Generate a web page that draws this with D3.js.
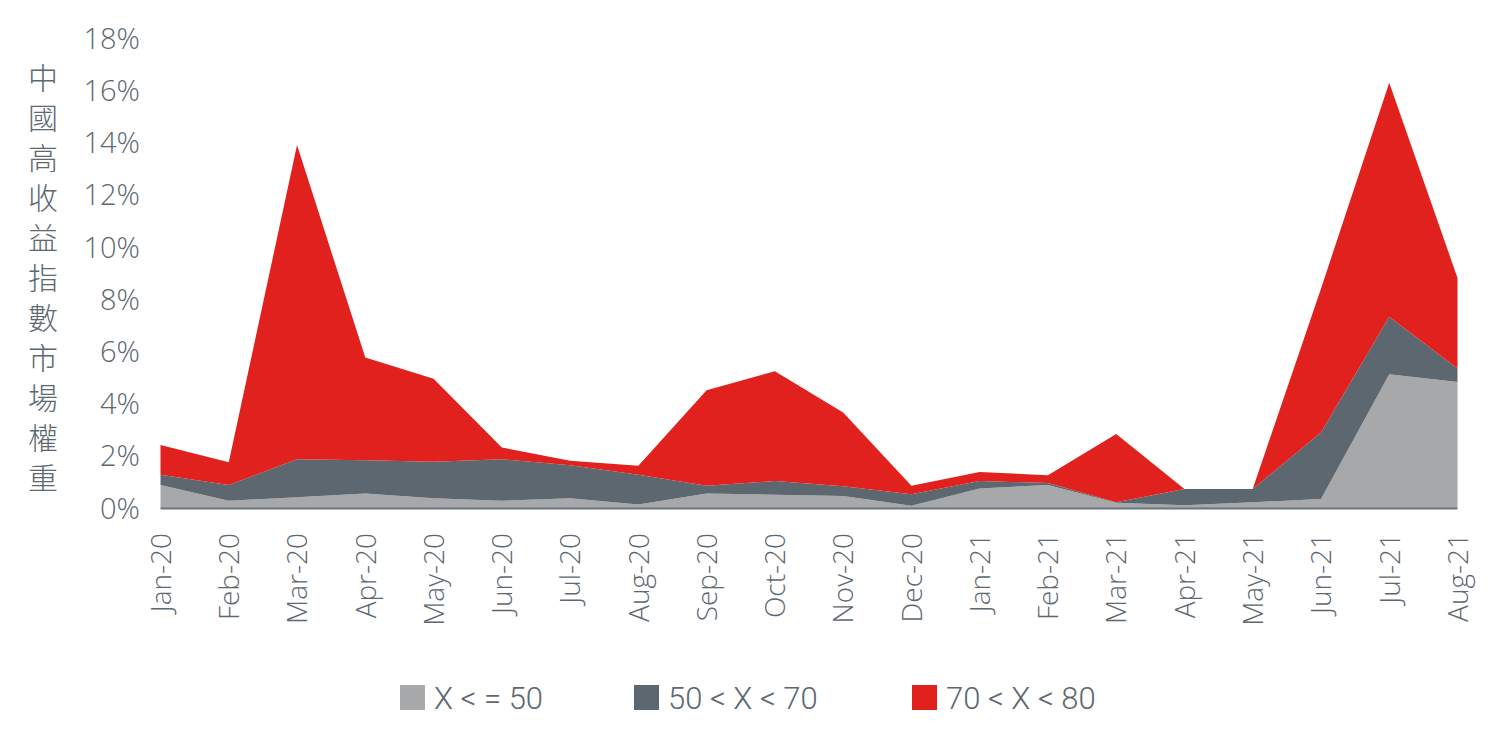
<!DOCTYPE html>
<html>
<head>
<meta charset="utf-8">
<script src="https://cdn.jsdelivr.net/npm/d3@7"></script>
<style>
  html, body { margin: 0; padding: 0; background: #fff; }
  svg { display: block; }
</style>
</head>
<body>
<svg id="chart" width="1500" height="748"></svg>
<script>
const months = ["Jan-20","Feb-20","Mar-20","Apr-20","May-20","Jun-20","Jul-20","Aug-20","Sep-20","Oct-20","Nov-20","Dec-20","Jan-21","Feb-21","Mar-21","Apr-21","May-21","Jun-21","Jul-21","Aug-21"];
// individual series values (%) - stacked
const seriesLow  = [0.88,0.28,0.41,0.56,0.37,0.28,0.37,0.13,0.56,0.51,0.46,0.09,0.75,0.88,0.20,0.11,0.22,0.34,5.12,4.83];
const seriesMid  = [0.39,0.60,1.46,1.27,1.40,1.59,1.27,1.14,0.29,0.52,0.37,0.44,0.28,0.08,0.02,0.62,0.51,2.55,2.20,0.51];
const seriesHigh = [1.14,0.87,12.03,3.93,3.18,0.45,0.17,0.35,3.66,4.21,2.83,0.32,0.35,0.29,2.61,0.00,0.00,5.51,8.97,3.47];
const seriesNames = ["X < = 50","50 < X < 70","70 < X < 80"];
const seriesColors = ["#a7a8aa","#5c6770","#e1211e"];
const yTicks = [0,2,4,6,8,10,12,14,16,18];
const yTitle = "中國高收益指數市場權重";

const svg = d3.select("#chart");
const textColor = "#5d6871";

const x = d3.scalePoint().domain(months).range([160.5, 1457.5]);
const y = d3.scaleLinear().domain([0, 18]).range([508, 38]);

const table = months.map((m, i) => ({ m, s0: seriesLow[i], s1: seriesMid[i], s2: seriesHigh[i] }));
const stack = d3.stack().keys(["s0","s1","s2"]);
const layers = stack(table);

const area = d3.area()
  .x(d => x(d.data.m))
  .y0(d => y(d[0]))
  .y1(d => y(d[1]));

svg.append("g").selectAll("path").data(layers).join("path")
  .attr("d", area)
  .attr("fill", (d, i) => seriesColors[i]);

// baseline axis
svg.append("line")
  .attr("x1", x(months[0])).attr("x2", x(months[months.length-1]))
  .attr("y1", y(0) + 0.5).attr("y2", y(0) + 0.5)
  .attr("stroke", "#6b757d").attr("stroke-width", 2);

// y axis labels
const yAxis = d3.axisLeft(y).tickValues(yTicks).tickFormat(d => d + "%").tickSize(0).tickPadding(0);
const gy = svg.append("g").attr("transform", "translate(140,0)").call(yAxis);
gy.select(".domain").remove();
gy.selectAll("text")
  .attr("fill", textColor)
  .style("font-family", "'Open Sans', sans-serif")
  .style("font-size", "29px")
  .style("font-weight", 300)
  .attr("dy", "0.35em");

// x axis labels
const xAxis = d3.axisBottom(x).tickSize(0).tickPadding(0);
const gx = svg.append("g").attr("transform", `translate(0,${y(0)})`).call(xAxis);
gx.select(".domain").remove();
gx.selectAll("text")
  .attr("fill", textColor)
  .style("font-family", "'Open Sans', sans-serif")
  .style("font-size", "28px")
  .style("font-weight", 300)
  .attr("text-anchor", "end")
  .attr("transform", "rotate(-90)")
  .attr("x", -25)
  .attr("y", 0)
  .attr("dy", "0.35em");

// y title (vertical stacked chars)
const chars = Array.from(yTitle);
svg.append("g").selectAll("text").data(chars).join("text")
  .attr("x", 43)
  .attr("y", (d, i) => 78 + i * 40)
  .attr("text-anchor", "middle")
  .attr("dy", "0.35em")
  .attr("fill", textColor)
  .style("font-family", "'Noto Sans CJK TC', sans-serif")
  .style("font-size", "30px")
  .style("font-weight", 300)
  .text(d => d);

// legend
const legendX = [400, 634, 912];
const lg = svg.append("g").selectAll("g").data(seriesNames).join("g")
  .attr("transform", (d, i) => `translate(${legendX[i]},685)`);
lg.append("rect").attr("width", 25).attr("height", 25).attr("fill", (d, i) => seriesColors[i]);
lg.append("text")
  .attr("x", 34).attr("y", 12.5).attr("dy", "0.36em")
  .attr("fill", textColor)
  .style("font-family", "'Roboto', sans-serif")
  .style("font-size", "31px")
  .style("font-weight", 300)
  .text(d => d);
</script>
</body>
</html>
